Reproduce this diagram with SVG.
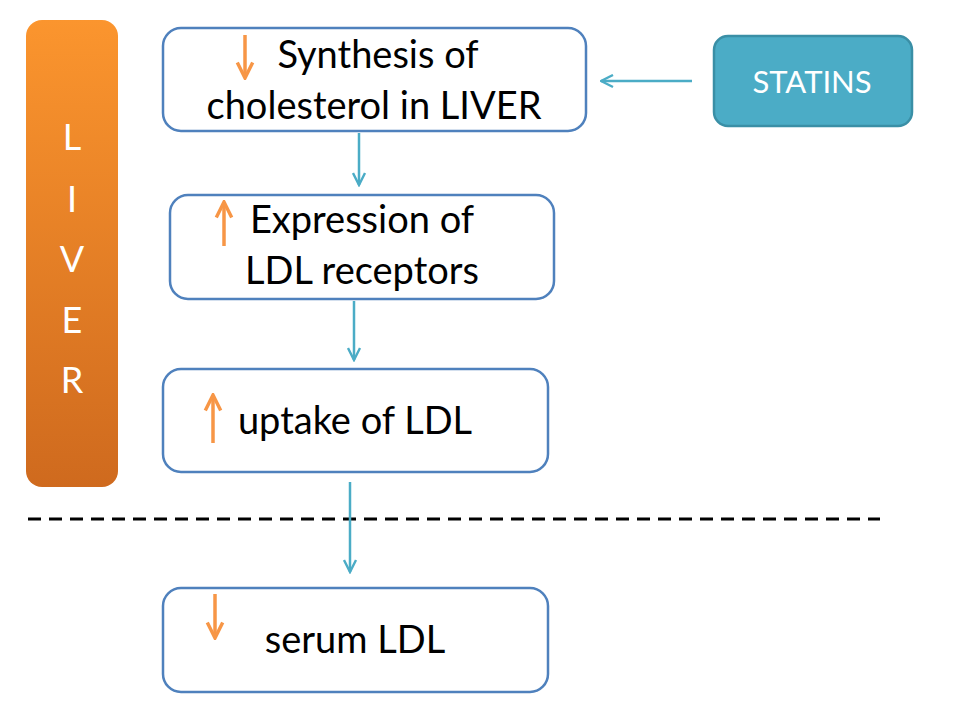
<svg xmlns="http://www.w3.org/2000/svg" width="960" height="720" viewBox="0 0 960 720">
<defs>
<linearGradient id="liverGrad" x1="0" y1="0" x2="0" y2="1">
<stop offset="0" stop-color="#FB952E"/>
<stop offset="1" stop-color="#CF6A1E"/>
</linearGradient>
<marker id="ah" viewBox="0 0 10 10" refX="9" refY="5" markerWidth="6" markerHeight="6" orient="auto" markerUnits="strokeWidth">
<path d="M1,1 L9,5 L1,9" fill="none" stroke="#4BACC6" stroke-width="1.6"/>
</marker>
<marker id="oh" viewBox="0 0 10 10" refX="9" refY="5" markerWidth="5.5" markerHeight="5.5" orient="auto" markerUnits="strokeWidth">
<path d="M1,1 L9,5 L1,9" fill="none" stroke="#F79646" stroke-width="1.8"/>
</marker>
</defs>
<style>
.box{fill:#ffffff;stroke:#4F81BD;stroke-width:2.5}
.t{font-family:Lato,"Open Sans",sans-serif;font-size:38px;fill:#000000}
.w{font-family:Lato,"Open Sans",sans-serif;fill:#ffffff}
.conn{stroke:#4BACC6;stroke-width:2.5;fill:none}
.up{stroke:#F79646;stroke-width:3.5;fill:none}
</style>
<rect width="960" height="720" fill="#ffffff"/>
<g id="liver">
<rect x="26" y="20" width="92" height="467" rx="16" fill="url(#liverGrad)"/>
<text class="w" font-size="36" x="72" y="150" text-anchor="middle">L</text>
<text class="w" font-size="36" x="72" y="212" text-anchor="middle">I</text>
<text class="w" font-size="36" x="72" y="272" text-anchor="middle">V</text>
<text class="w" font-size="36" x="72" y="333" text-anchor="middle">E</text>
<text class="w" font-size="36" x="72" y="393" text-anchor="middle">R</text>
</g>
<g id="statins">
<rect x="714" y="36" width="198" height="90" rx="14" fill="#4BACC6" stroke="#3A8FA6" stroke-width="2.5"/>
<text class="w" font-size="31" x="812" y="93" text-anchor="middle">STATINS</text>
</g>
<g id="synthesis">
<rect class="box" x="163" y="28" width="423" height="103" rx="18"/>
<line class="up" x1="245" y1="35" x2="245" y2="78" marker-end="url(#oh)"/>
<text class="t" x="378" y="68" text-anchor="middle">Synthesis of</text>
<text class="t" x="374" y="119" text-anchor="middle">cholesterol in LIVER</text>
</g>
<g id="expression">
<rect class="box" x="170" y="195" width="384" height="104" rx="18"/>
<line class="up" x1="224" y1="246" x2="224" y2="202" marker-end="url(#oh)"/>
<text class="t" x="362" y="233" text-anchor="middle">Expression of</text>
<text class="t" x="362" y="284" text-anchor="middle">LDL receptors</text>
</g>
<g id="uptake">
<rect class="box" x="163" y="369" width="385" height="103" rx="18"/>
<line class="up" x1="213" y1="443" x2="213" y2="395" marker-end="url(#oh)"/>
<text class="t" x="355" y="434" text-anchor="middle">uptake of LDL</text>
</g>
<g id="serum">
<rect class="box" x="163" y="588" width="385" height="104" rx="18"/>
<line class="up" x1="215" y1="594" x2="215" y2="638" marker-end="url(#oh)"/>
<text class="t" x="355" y="653" text-anchor="middle">serum LDL</text>
</g>
<line x1="28" y1="519" x2="880" y2="519" stroke="#000000" stroke-width="3" stroke-dasharray="13,8"/>
<g id="connectors">
<line class="conn" x1="692" y1="81" x2="601" y2="81" marker-end="url(#ah)"/>
<line class="conn" x1="359" y1="133" x2="359" y2="185" marker-end="url(#ah)"/>
<line class="conn" x1="354" y1="301" x2="354" y2="360" marker-end="url(#ah)"/>
<line class="conn" x1="350" y1="482" x2="350" y2="572" marker-end="url(#ah)"/>
</g>
</svg>
